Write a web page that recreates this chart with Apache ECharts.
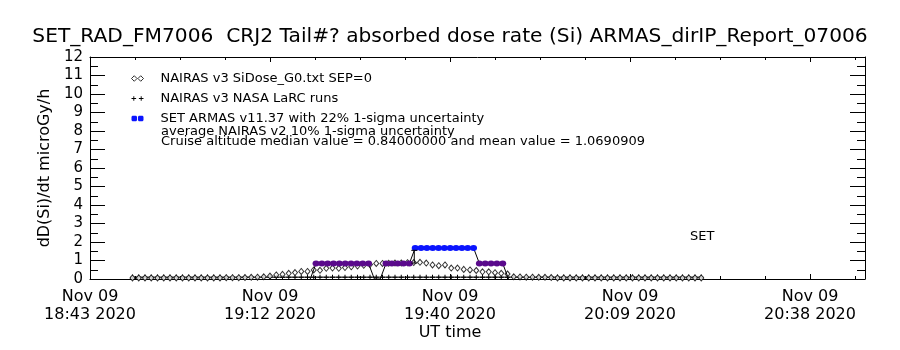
<!DOCTYPE html>
<html>
<head>
<meta charset="utf-8">
<title>SET_RAD_FM7006 absorbed dose rate</title>
<script src="https://cdn.jsdelivr.net/npm/echarts@6/dist/echarts.min.js"></script>
<style>
  html, body { margin: 0; padding: 0; background: #fff; }
  #chart { width: 900px; height: 350px; }
</style>
</head>
<body>
<div id="chart"></div>
<script>
// Flight date (UTC) and helpers to turn "HH:MM[:SS]" into epoch milliseconds
const flightDay = Date.UTC(2020, 10, 9);
function hms(s) {
  const p = s.split(':').map(Number);
  return flightDay + ((p[0] * 60 + p[1]) * 60 + (p[2] || 0)) * 1000;
}

// X axis: 0.02-day ticks starting at 0.78 day (18:43:12 UT)
const xStart = '18:43:12';
const xEnd = '20:47:12';
const xTickStepMin = 28.8;
const xTickDate = 'Nov 09';
const xTickYear = '2020';
const xTickTimes = ['18:43', '19:12', '19:40', '20:09', '20:38'];

// Y axis
const yMin = 0;
const yMax = 12;

// NAIRAS v3 SiDose_G0 model, one sample per minute from 18:50 UT
const sidoseStart = '18:50';
const sidoseStepSec = 60;
const sidoseValues = [
  0.06, 0.06, 0.06, 0.06, 0.06, 0.06, 0.06, 0.06, 0.06, 0.06,
  0.06, 0.06, 0.06, 0.06, 0.06, 0.07, 0.07, 0.07, 0.08, 0.09, 0.10,
  0.12, 0.16, 0.22, 0.25, 0.31, 0.35, 0.41, 0.41, 0.49, 0.47, 0.58, 0.59, 0.58,
  0.62, 0.66, 0.70, 0.74, 0.78,
  0.84, 0.84,
  0.85, 0.86, 0.87, 0.88, 0.89,
  0.90, 0.86, 0.76, 0.72, 0.76, 0.59, 0.59, 0.52, 0.49, 0.46, 0.39, 0.39, 0.34, 0.31, 0.27,
  0.12, 0.11, 0.10, 0.10, 0.09, 0.09, 0.08,
  0.06, 0.06, 0.06, 0.06, 0.06, 0.06, 0.06, 0.06, 0.06, 0.06, 0.06, 0.06,
  0.06, 0.06, 0.06, 0.06, 0.06, 0.06, 0.06, 0.06, 0.06, 0.06, 0.06, 0.06
];

// NAIRAS v3 NASA LaRC runs, one sample per minute from 18:50 UT
const larcStart = '18:50';
const larcStepSec = 60;
const larcValues = [
  0.1, 0.1, 0.1, 0.1, 0.1, 0.1, 0.1, 0.1, 0.1, 0.1,
  0.1, 0.1, 0.1, 0.1, 0.1, 0.1, 0.1, 0.1, 0.1, 0.1,
  0.1, 0.1, 0.1, 0.1, 0.1, 0.1, 0.1, 0.1, 0.1, 0.1,
  0.1, 0.1, 0.1, 0.1, 0.1, 0.1, 0.1, 0.1, 0.1, 0.1,
  0.1, 0.1, 0.1, 0.1, 0.1, 0.1, 0.1, 0.1, 0.1, 0.1,
  0.1, 0.1, 0.1, 0.1, 0.1, 0.1, 0.1, 0.1, 0.1, 0.1,
  0.1, 0.1, 0.1, 0.1, 0.1, 0.1, 0.1, 0.1, 0.1, 0.1,
  0.1, 0.1, 0.1, 0.1, 0.1, 0.1, 0.1, 0.1, 0.1, 0.1,
  0.1, 0.1, 0.1, 0.1, 0.1, 0.1, 0.1, 0.1, 0.1, 0.1,
  0.1, 0.1
];

// SET ARMAS v11.37 cruise-altitude samples (56 s cadence)
const armasStart = '19:19:22';
const armasStepSec = 56;
const armasCruise = [
  0.84, 0.84, 0.84, 0.84, 0.84, 0.84, 0.84, 0.84, 0.84, 0.84,
  0.00, 0.00,
  0.84, 0.84, 0.84, 0.84, 0.84,
  1.68, 1.68, 1.68, 1.68, 1.68, 1.68, 1.68, 1.68, 1.68, 1.68, 1.68,
  0.84, 0.84, 0.84, 0.84, 0.84
];
// level before and after the cruise segment
const armasBefore = 0.0;
const armasAfter = 0.0;

// single uncertainty bar: time, low, high
const errorBars = [['19:35:05', 0.86, 1.55]];

// legend labels and notes
const seriesNames = [
  'NAIRAS v3 SiDose_G0.txt SEP=0',
  'NAIRAS v3 NASA LaRC runs',
  'SET ARMAS v11.37 with 22% 1-sigma uncertainty'
];
const noteNairas = 'average NAIRAS v2 10% 1-sigma uncertainty';

// ---------------------------------------------------------------
const X_MIN = hms(xStart);
const X_MAX = hms(xEnd);
const X_STEP = xTickStepMin * 60000;

function series1(start, stepSec, values) {
  const t0 = hms(start);
  return values.map((v, i) => [t0 + i * stepSec * 1000, v]);
}

const sidoseData = series1(sidoseStart, sidoseStepSec, sidoseValues);
const larcData = series1(larcStart, larcStepSec, larcValues);
const armasT0 = hms(armasStart);
const armasData = [[armasT0 - armasStepSec * 1000, armasBefore]]
  .concat(armasCruise.map((v, i) => [armasT0 + i * armasStepSec * 1000, v]))
  .concat([[armasT0 + armasCruise.length * armasStepSec * 1000, armasAfter]]);
const errData = errorBars.map(e => [hms(e[0]), e[1], e[2]]);

// cruise statistics printed in the note line
const sorted = armasCruise.slice().sort((a, b) => a - b);
const mid = Math.floor(sorted.length / 2);
const median = sorted.length % 2 ? sorted[mid] : (sorted[mid - 1] + sorted[mid]) / 2;
const mean = armasCruise.reduce((a, b) => a + b, 0) / armasCruise.length;
const noteCruise = 'Cruise altitude median value = ' + median.toFixed(8) +
  ' and mean value = ' + mean.toFixed(7);

const FONT = 'DejaVu Sans';
const PURPLE = '#5a0a8c';
const BLUE = '#0a14ff';

function xLabel(v) {
  const k = Math.round((v - X_MIN) / X_STEP);
  if (k < 0 || k >= xTickTimes.length) return '';
  if (Math.abs(v - (X_MIN + k * X_STEP)) > 1000) return '';
  return xTickDate + '\n' + xTickTimes[k] + ' ' + xTickYear;
}

const axisLineStyle = { color: '#000', width: 1 };

function xAxisDef(pos, withLabels) {
  return {
    type: 'value',
    position: pos,
    min: X_MIN,
    max: X_MAX,
    interval: X_STEP,
    axisLine: { show: true, onZero: false, lineStyle: axisLineStyle },
    axisTick: { show: true, inside: true, length: 5, lineStyle: axisLineStyle },
    minorTick: { show: true, splitNumber: 4, length: 3, lineStyle: axisLineStyle },
    splitLine: { show: false },
    axisLabel: {
      show: withLabels,
      formatter: xLabel,
      margin: 9,
      color: '#000',
      fontFamily: FONT,
      fontSize: 16,
      lineHeight: 18,
      showMinLabel: true,
      showMaxLabel: false,
      hideOverlap: false
    }
  };
}

function yAxisDef(pos, withLabels) {
  return {
    type: 'value',
    position: pos,
    min: yMin,
    max: yMax,
    interval: 1,
    name: withLabels ? 'dD(Si)/dt microGy/h' : '',
    nameLocation: 'middle',
    nameGap: 29,
    nameTextStyle: { color: '#000', fontFamily: FONT, fontSize: 16 },
    axisLine: { show: true, onZero: false, lineStyle: axisLineStyle },
    axisTick: { show: true, inside: true, length: 15, lineStyle: axisLineStyle },
    minorTick: { show: true, splitNumber: 2, length: 8, lineStyle: axisLineStyle },
    splitLine: { show: false },
    axisLabel: {
      show: withLabels,
      margin: 7,
      color: '#000',
      fontFamily: FONT,
      fontSize: 15
    }
  };
}

const chart = echarts.init(document.getElementById('chart'), null, { renderer: 'canvas' });

chart.setOption({
  animation: false,
  backgroundColor: '#fff',
  textStyle: { fontFamily: FONT },
  title: {
    text: 'SET_RAD_FM7006  CRJ2 Tail#? absorbed dose rate (Si) ARMAS_dirIP_Report_07006',
    left: 'center',
    top: 22,
    textStyle: { color: '#000', fontFamily: FONT, fontSize: 20.2, fontWeight: 'normal' }
  },
  grid: { left: 90, right: 35, top: 57, bottom: 71 },
  xAxis: [xAxisDef('bottom', true), xAxisDef('top', false)],
  yAxis: [yAxisDef('left', true), yAxisDef('right', false)],
  legend: {
    orient: 'vertical',
    left: 126,
    top: 67,
    itemGap: 7,
    itemWidth: 12,
    itemHeight: 6,
    selectedMode: false,
    textStyle: { color: '#000', fontFamily: FONT, fontSize: 13, padding: [0, 0, 0, 12] },
    data: [
      { name: seriesNames[0], icon: 'path://M0,3L3,0L6,3L3,6Z M7,3L10,0L13,3L10,6Z',
        itemStyle: { color: '#fff', borderColor: '#000', borderWidth: 1 } },
      { name: seriesNames[1], icon: 'path://M2,0H3V2H5V3H3V5H2V3H0V2H2Z M10,0H11V2H13V3H11V5H10V3H8V2H10Z',
        itemStyle: { color: '#000', borderWidth: 0 } },
      { name: seriesNames[2], icon: 'path://M1,0H5L6,1V5L5,6H1L0,5V1Z M8,0H12L13,1V5L12,6H8L7,5V1Z',
        itemStyle: { color: BLUE, borderWidth: 0 } }
    ]
  },
  graphic: [
    { type: 'text', left: 161, top: 125, style: { text: noteNairas, fill: '#000', font: '13px "DejaVu Sans"' } },
    { type: 'text', left: 161, top: 135, style: { text: noteCruise, fill: '#000', font: '13px "DejaVu Sans"' } },
    { type: 'text', left: 690, top: 230, style: { text: 'SET', fill: '#000', font: '13px "DejaVu Sans"' } },
    { type: 'text', left: 'center', top: 325, style: { text: 'UT time', fill: '#000', font: '16px "DejaVu Sans"' } }
  ],
  series: [
    {
      name: seriesNames[1],
      type: 'line',
      data: larcData,
      symbol: 'path://M2,0H3V2H5V3H3V5H2V3H0V2H2Z',
      symbolSize: 5,
      showAllSymbol: true,
      lineStyle: { color: '#000', width: 1 },
      itemStyle: { color: '#000' },
      z: 2
    },
    {
      name: seriesNames[0],
      type: 'scatter',
      data: sidoseData,
      symbol: 'diamond',
      symbolSize: [5, 6],
      itemStyle: { color: '#fff', borderColor: '#000', borderWidth: 1 },
      z: 3
    },
    {
      name: seriesNames[2],
      type: 'line',
      data: armasData,
      showAllSymbol: true,
      symbol: 'circle',
      symbolSize: function (val) { return val[1] > 0 ? [7, 6] : 0; },
      lineStyle: { color: '#000', width: 1 },
      itemStyle: {
        color: function (p) { return p.value[1] > 1 ? BLUE : PURPLE; },
        borderWidth: 0
      },
      z: 4
    },
    {
      name: 'uncertainty',
      type: 'custom',
      data: errData,
      encode: { x: 0, y: [1, 2] },
      renderItem: function (params, api) {
        const lo = api.coord([api.value(0), api.value(1)]);
        const hi = api.coord([api.value(0), api.value(2)]);
        const hw = 3;
        const st = { stroke: '#000', lineWidth: 1 };
        return {
          type: 'group',
          children: [
            { type: 'line', shape: { x1: lo[0], y1: lo[1], x2: hi[0], y2: hi[1] }, style: st },
            { type: 'line', shape: { x1: hi[0] - hw, y1: hi[1], x2: hi[0] + hw, y2: hi[1] }, style: st },
            { type: 'line', shape: { x1: lo[0] - hw, y1: lo[1], x2: lo[0] + hw, y2: lo[1] }, style: st }
          ]
        };
      },
      z: 5
    }
  ]
});
</script>
</body>
</html>
